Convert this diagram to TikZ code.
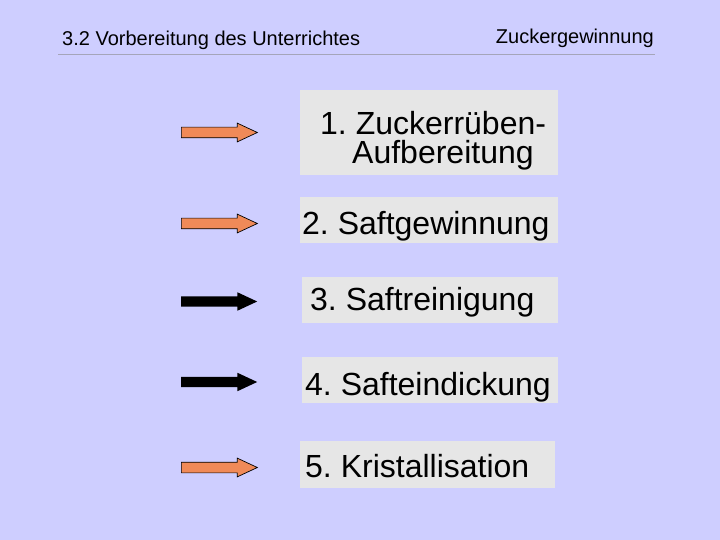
\documentclass[tikz,border=0pt]{standalone}
\usepackage{fontspec}
\setmainfont{Liberation Sans}
\usepackage{tikz}
\usetikzlibrary{shapes.arrows}
\frenchspacing

\definecolor{slidebg}{RGB}{206,206,255}
\definecolor{boxgray}{RGB}{230,230,230}
\definecolor{arroworange}{RGB}{240,138,88}
\definecolor{rulegray}{RGB}{165,165,185}

\begin{document}
\begin{tikzpicture}[x=1pt, y=-1pt,
	headtext/.style={font=\fontsize{20}{24}\selectfont, inner sep=0pt},
	stepbox/.style={fill=boxgray, inner sep=0pt},
	steptext/.style={font=\fontsize{32}{28.5}\selectfont, inner sep=0pt, anchor=base west},
	blockarrow/.style={single arrow, anchor=tail, inner xsep=0pt, inner ysep=5pt, minimum height=76pt,
		minimum width=18pt, single arrow head extend=4pt, single arrow tip angle=50},
	orangearrow/.style={blockarrow, fill=arroworange, draw=black, line width=0.7pt},
	blackarrow/.style={blockarrow, fill=black}]
			\useasboundingbox [fill=slidebg] (0, 0) rectangle (720, 540);
			% header
			\node at (62, 46) [headtext, anchor=base west] (chapter) {3.2 Vorbereitung des Unterrichtes};
			\node at (654, 44) [headtext, anchor=base east] (topic) {Zuckergewinnung};
			\coordinate (rule1) at (58, 54.5);
			\coordinate (rule2) at (655, 54.5);
			\draw [rulegray, line width=0.8pt] (rule1) -- (rule2);
			% boxes
			\node at (429, 132.5) [stepbox, minimum width=258pt, minimum height=85pt] (box1) {};
			\node at (429, 220) [stepbox, minimum width=258pt, minimum height=46pt] (box2) {};
			\node at (430, 300) [stepbox, minimum width=256pt, minimum height=46pt] (box3) {};
			\node at (430, 380) [stepbox, minimum width=256pt, minimum height=46pt] (box4) {};
			\node at (427.5, 464.5) [stepbox, minimum width=255pt, minimum height=47pt] (box5) {};
			% texts
			\node at (320, 134.5) [steptext] (step1a) {1. Zuckerrüben-};
			\node at (352, 163.5) [steptext] (step1b) {Aufbereitung};
			\node at (302, 235) [steptext] (step2) {2. Saftgewinnung};
			\node at (310, 310) [steptext] (step3) {3. Saftreinigung};
			\node at (305, 395) [steptext] (step4) {4. Safteindickung};
			\node at (305, 477) [steptext] (step5) {5. Kristallisation};
			% arrows
			\node at (181, 132.5) [orangearrow] (arrow1) {};
			\node at (181, 223.5) [orangearrow] (arrow2) {};
			\node at (181, 301.5) [blackarrow] (arrow3) {};
			\node at (181, 382) [blackarrow] (arrow4) {};
			\node at (181, 467.5) [orangearrow] (arrow5) {};
		\end{tikzpicture}
\end{document}
